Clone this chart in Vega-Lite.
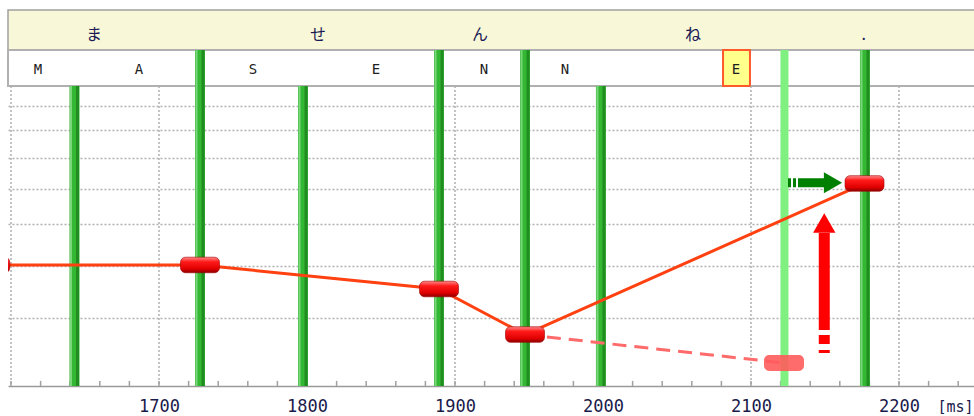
{
  "$schema": "https://vega.github.io/schema/vega-lite/v6.json",
  "padding": {"left": 7, "top": 9, "right": 0, "bottom": 0},
  "background": "#ffffff",
  "spacing": 0,
  "bounds": "flush",
  "config": {"font": "DejaVu Sans", "view": {"stroke": null}, "axisX": {"grid": false}},
  "datasets": {
    "bars": [
      {"t": 1642.9, "state": "normal", "hdr": false},
      {"t": 1727.7, "state": "normal", "hdr": true},
      {"t": 1797.3, "state": "normal", "hdr": false},
      {"t": 1889.2, "state": "normal", "hdr": true},
      {"t": 1947.3, "state": "normal", "hdr": true},
      {"t": 1998.6, "state": "normal", "hdr": false},
      {"t": 2122.6, "state": "light", "hdr": true},
      {"t": 2177.0, "state": "normal", "hdr": true}
    ],
    "vgrid": [{"t": 1600}, {"t": 1700}, {"t": 1800}, {"t": 1900}, {"t": 2000}, {"t": 2100}, {"t": 2200}],
    "minor": [
      {"t": 1600}, {"t": 1620}, {"t": 1640}, {"t": 1660}, {"t": 1680}, {"t": 1700}, {"t": 1720}, {"t": 1740}, {"t": 1760}, {"t": 1780},
      {"t": 1800}, {"t": 1820}, {"t": 1840}, {"t": 1860}, {"t": 1880}, {"t": 1900}, {"t": 1920}, {"t": 1940}, {"t": 1960}, {"t": 1980},
      {"t": 2000}, {"t": 2020}, {"t": 2040}, {"t": 2060}, {"t": 2080}, {"t": 2100}, {"t": 2120}, {"t": 2140}, {"t": 2160}, {"t": 2180},
      {"t": 2200}, {"t": 2220}, {"t": 2240}
    ],
    "pitch": [
      {"t": 1586, "f": 251.5},
      {"t": 1727.7, "f": 251.5},
      {"t": 1889.2, "f": 226.7},
      {"t": 1947.3, "f": 186.2},
      {"t": 2176.7, "f": 357.7}
    ],
    "ghost": [{"t": 1947.3, "f": 186.2}, {"t": 2122.3, "f": 164.7}],
    "kana": [
      {"t": 1656.1, "s": "ま"},
      {"t": 1807.4, "s": "せ"},
      {"t": 1916.9, "s": "ん"},
      {"t": 2060.8, "s": "ね"},
      {"t": 2176.1, "s": "."}
    ],
    "phon": [
      {"t": 1618.2, "s": "M"},
      {"t": 1686.5, "s": "A"},
      {"t": 1763.5, "s": "S"},
      {"t": 1846.6, "s": "E"},
      {"t": 1919.6, "s": "N"},
      {"t": 1974.3, "s": "N"},
      {"t": 2089.9, "s": "E"}
    ]
  },
  "vconcat": [
    {
      "width": 967,
      "height": 40,
      "view": {"fill": "#f8f8d8", "stroke": "#a0a0a0", "strokeWidth": 1.5},
      "data": {"name": "kana"},
      "mark": {"type": "text", "font": "Noto Sans CJK JP", "fontSize": 16, "color": "#1a1a55", "dy": 5},
      "encoding": {
        "x": {"field": "t", "type": "quantitative", "scale": {"domain": [1597.97, 2251.35], "nice": false, "zero": false}, "axis": null},
        "text": {"field": "s"}
      }
    },
    {
      "width": 967,
      "height": 36,
      "view": {"fill": "#ffffff", "stroke": "#b0b0b0", "strokeWidth": 2},
      "layer": [
        {
          "data": {"values": [{"t": 2081.1, "t2": 2099.3}]},
          "mark": {"type": "rect", "fill": "#ffff8c", "stroke": "#ff5a2a", "strokeWidth": 2},
          "encoding": {
            "x": {"field": "t", "type": "quantitative", "scale": {"domain": [1597.97, 2251.35], "nice": false, "zero": false}, "axis": null},
            "x2": {"field": "t2"}
          }
        },
        {
          "data": {"name": "phon"},
          "mark": {"type": "text", "font": "DejaVu Sans Mono", "fontSize": 14, "color": "#202020", "dy": 2},
          "encoding": {
            "x": {"field": "t", "type": "quantitative", "axis": null},
            "text": {"field": "s"}
          }
        },
        {
          "data": {"name": "bars"},
          "transform": [{"filter": "datum.hdr && datum.state == 'normal'"}],
          "mark": {"type": "rule", "strokeWidth": 10, "color": "#34b834"},
          "encoding": {"x": {"field": "t", "type": "quantitative", "axis": null}}
        },
        {
          "data": {"name": "bars"},
          "transform": [{"filter": "datum.hdr && datum.state == 'normal'"}],
          "mark": {"type": "rule", "strokeWidth": 2, "color": "#7ad67a", "xOffset": -3.5},
          "encoding": {"x": {"field": "t", "type": "quantitative", "axis": null}}
        },
        {
          "data": {"name": "bars"},
          "transform": [{"filter": "datum.hdr && datum.state == 'normal'"}],
          "mark": {"type": "rule", "strokeWidth": 3, "color": "#218d21", "xOffset": 3},
          "encoding": {"x": {"field": "t", "type": "quantitative", "axis": null}}
        },
        {
          "data": {"name": "bars"},
          "transform": [{"filter": "datum.state == 'light'"}],
          "mark": {"type": "rule", "strokeWidth": 8, "color": "#80f080"},
          "encoding": {"x": {"field": "t", "type": "quantitative", "axis": null}}
        }
      ]
    },
    {
      "width": 967,
      "height": 300,
      "view": {"stroke": null},
      "layer": [
        {
          "data": {"name": "vgrid"},
          "mark": {"type": "rule", "color": "#b0b0b0", "strokeWidth": 1.5, "strokeDash": [2, 2]},
          "encoding": {
            "x": {
              "field": "t", "type": "quantitative",
              "scale": {"domain": [1597.97, 2251.35], "nice": false, "zero": false},
              "axis": {
                "values": [1700, 1800, 1900, 2000, 2100, 2200],
                "format": "d",
                "labelOverlap": false,
                "ticks": false,
                "domainColor": "#9a9a9a",
                "domainWidth": 1.5,
                "grid": false,
                "labelFont": "DejaVu Sans Mono",
                "labelFontSize": 17,
                "labelColor": "#1a1a4a",
                "labelPadding": 12,
                "title": "[ms]",
                "titleX": 929,
                "titleY": 20,
                "titleAlign": "left",
                "titleBaseline": "middle",
                "titleFont": "DejaVu Sans Mono",
                "titleFontSize": 15,
                "titleFontWeight": "normal",
                "titleColor": "#1a1a4a"
              }
            }
          }
        },
        {
          "data": {"name": "minor"},
          "mark": {"type": "rule", "color": "#a0a0a0", "strokeWidth": 1.5},
          "encoding": {
            "x": {"field": "t", "type": "quantitative"},
            "y": {"datum": 149.07, "type": "quantitative"},
            "y2": {"datum": 152.4}
          }
        },
        {
          "data": {"name": "bars"},
          "transform": [{"filter": "datum.state == 'normal'"}],
          "mark": {"type": "rule", "strokeWidth": 10, "color": "#34b834"},
          "encoding": {"x": {"field": "t", "type": "quantitative"}}
        },
        {
          "data": {"name": "bars"},
          "transform": [{"filter": "datum.state == 'normal'"}],
          "mark": {"type": "rule", "strokeWidth": 2, "color": "#7ad67a", "xOffset": -3.5},
          "encoding": {"x": {"field": "t", "type": "quantitative"}}
        },
        {
          "data": {"name": "bars"},
          "transform": [{"filter": "datum.state == 'normal'"}],
          "mark": {"type": "rule", "strokeWidth": 3, "color": "#218d21", "xOffset": 3},
          "encoding": {"x": {"field": "t", "type": "quantitative"}}
        },
        {
          "data": {"name": "bars"},
          "transform": [{"filter": "datum.state == 'light'"}],
          "mark": {"type": "rule", "strokeWidth": 8, "color": "#80f080"},
          "encoding": {"x": {"field": "t", "type": "quantitative"}}
        },
        {
          "data": {"name": "ghost"},
          "mark": {"type": "line", "color": "#ff6a6a", "strokeWidth": 3, "strokeDash": [14, 8]},
          "encoding": {
            "x": {"field": "t", "type": "quantitative"},
            "y": {
              "field": "f", "type": "quantitative",
              "scale": {"type": "log", "domain": [149.07, 545.1], "nice": false, "zero": false},
              "axis": {"values": [200, 250, 300, 350, 400, 450, 500], "grid": true, "gridDash": [2, 2], "gridColor": "#b0b0b0", "gridWidth": 1.5, "labels": false, "ticks": false, "domain": false, "title": null, "minExtent": 0, "maxExtent": 0}
            }
          }
        },
        {
          "data": {"values": [{"t": 2122.3, "f": 164.7}]},
          "mark": {"type": "point", "filled": true, "opacity": 0.9, "fill": "#ff5c5c", "size": 1600, "shape": "M-0.744,-0.4 L0.744,-0.4 A0.256,0.256 0 0 1 1,-0.144 L1,0.144 A0.256,0.256 0 0 1 0.744,0.4 L-0.744,0.4 A0.256,0.256 0 0 1 -1,0.144 L-1,-0.144 A0.256,0.256 0 0 1 -0.744,-0.4 Z"},
          "encoding": {"x": {"field": "t", "type": "quantitative"}, "y": {"field": "f", "type": "quantitative"}}
        },
        {
          "data": {"name": "pitch"},
          "mark": {"type": "line", "color": "#ff4010", "strokeWidth": 3, "clip": true},
          "encoding": {"x": {"field": "t", "type": "quantitative"}, "y": {"field": "f", "type": "quantitative"}}
        },
        {
          "data": {"name": "pitch"},
          "mark": {
            "type": "point", "filled": true, "opacity": 1, "clip": true, "size": 1521,
            "stroke": "#a00000", "strokeWidth": 0.6,
            "fill": {"gradient": "linear", "x1": 0, "y1": 0, "x2": 0, "y2": 1, "stops": [{"offset": 0, "color": "#ff8a8a"}, {"offset": 0.3, "color": "#ff1a1a"}, {"offset": 0.75, "color": "#e00000"}, {"offset": 1, "color": "#8a0000"}]},
            "shape": "M-0.744,-0.4 L0.744,-0.4 A0.256,0.256 0 0 1 1,-0.144 L1,0.144 A0.256,0.256 0 0 1 0.744,0.4 L-0.744,0.4 A0.256,0.256 0 0 1 -1,0.144 L-1,-0.144 A0.256,0.256 0 0 1 -0.744,-0.4 Z"
          },
          "encoding": {"x": {"field": "t", "type": "quantitative"}, "y": {"field": "f", "type": "quantitative"}}
        },
        {
          "data": {"values": [{"t": 2125.0, "t2": 2150.0, "f": 359}]},
          "mark": {"type": "rule", "color": "#008000", "strokeWidth": 9, "strokeCap": "butt", "strokeDash": [3, 2, 3, 2, 100]},
          "encoding": {"x": {"field": "t", "type": "quantitative"}, "x2": {"field": "t2"}, "y": {"field": "f", "type": "quantitative"}}
        },
        {
          "data": {"values": [{"t": 2155.4, "f": 359}]},
          "mark": {"type": "point", "shape": "triangle-right", "filled": true, "opacity": 1, "color": "#008000", "size": 441},
          "encoding": {"x": {"field": "t", "type": "quantitative"}, "y": {"field": "f", "type": "quantitative"}}
        },
        {
          "data": {"values": [{"t": 2149.5, "f": 171.9, "f2": 288.8}]},
          "mark": {"type": "rule", "color": "#ff0000", "strokeWidth": 11, "strokeCap": "butt", "strokeDash": [3, 6, 9, 5, 300]},
          "encoding": {"x": {"field": "t", "type": "quantitative"}, "y": {"field": "f", "type": "quantitative"}, "y2": {"field": "f2"}}
        },
        {
          "data": {"values": [{"t": 2149.5, "f": 301.5}]},
          "mark": {"type": "point", "shape": "triangle-up", "filled": true, "opacity": 1, "color": "#ff0000", "size": 500},
          "encoding": {"x": {"field": "t", "type": "quantitative"}, "y": {"field": "f", "type": "quantitative"}}
        }
      ]
    }
  ]
}
